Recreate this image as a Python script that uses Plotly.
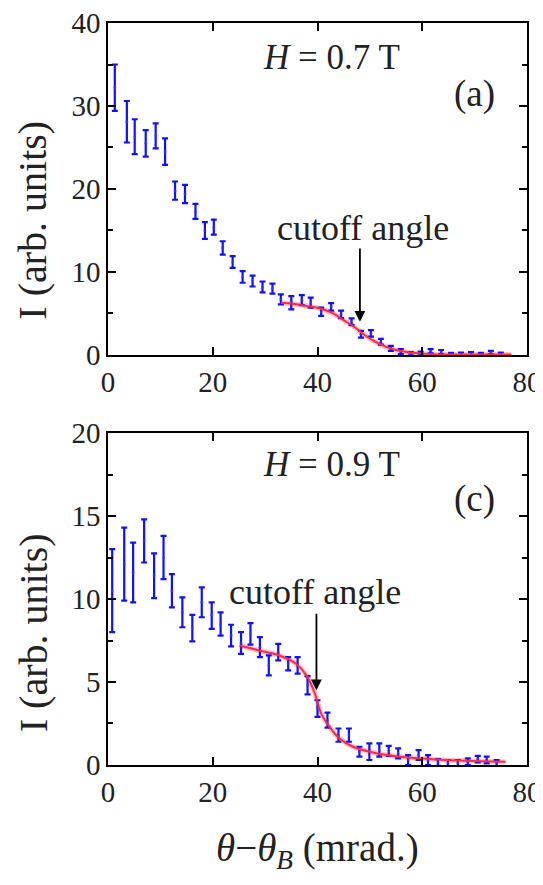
import plotly.graph_objects as go

# ---------------- data: panel (a), H = 0.7 T ----------------
a_x = [1.3, 3.6, 5.1, 7.2, 9.1, 10.9, 12.8, 14.7, 16.7, 18.5, 20.2, 21.9, 23.8, 25.7,
       27.6, 29.5, 31.4, 33.0, 35.0, 37.0, 38.7, 40.7, 42.6, 44.5, 46.5, 48.3, 50.2,
       52.1, 54.0, 55.9, 57.8, 59.7, 61.6, 63.6, 65.5, 67.4, 69.3, 71.2, 73.1, 75.0]
a_y = [32.2, 28.1, 26.3, 25.5, 26.4, 24.5, 19.8, 19.4, 17.3, 15.0, 15.4, 12.9, 11.2, 9.4,
       8.9, 8.2, 8.0, 6.7, 6.3, 6.6, 6.3, 5.2, 5.8, 4.9, 4.0, 2.5, 2.6,
       1.6, 0.8, 0.4, 0.15, 0.2, 0.45, 0.35, 0.05, 0.1, 0.15, 0.05, 0.3, 0.1]
a_err = [2.8, 2.5, 2.1, 1.6, 1.5, 1.6, 1.1, 1.1, 0.9, 1.0, 0.9, 0.8, 0.7, 0.7,
         0.65, 0.65, 0.6, 0.6, 0.8, 0.6, 0.6, 0.5, 0.45, 0.45, 0.4, 0.4, 0.4,
         0.35, 0.3, 0.3, 0.2, 0.2, 0.25, 0.25, 0.2, 0.2, 0.2, 0.2, 0.2, 0.2]
a_fit_x = [33, 35, 37, 39, 41, 43, 45, 47, 49, 51, 53, 55, 57, 59, 62, 66, 70, 77]
a_fit_y = [6.3, 6.2, 6.0, 5.8, 5.5, 5.0, 4.2, 3.4, 2.4, 1.6, 1.0, 0.6, 0.35, 0.2, 0.1,
           0.05, 0.05, 0.05]

# ---------------- data: panel (c), H = 0.9 T ----------------
c_x = [0.8, 3.1, 4.8, 6.9, 8.8, 10.6, 12.2, 14.2, 16.1, 17.9, 19.8, 21.5, 23.5, 25.4,
       27.2, 29.0, 30.7, 32.5, 34.4, 36.2, 38.1, 40.0, 41.9, 44.0, 46.0, 48.0, 49.9,
       51.8, 53.6, 55.4, 57.3, 59.3, 61.1, 63.0, 64.9, 66.8, 68.7, 70.6, 72.3, 74.2]
c_y = [10.5, 12.1, 11.6, 13.5, 11.4, 12.5, 10.5, 9.2, 8.25, 9.8, 9.0, 8.5, 7.8, 7.35,
       7.9, 7.1, 6.0, 6.8, 6.1, 6.0, 4.8, 3.4, 2.7, 1.8, 1.8, 0.8, 0.8,
       0.9, 0.85, 0.7, 0.3, 0.6, 0.3, 0.15, 0.1, 0.1, 0.2, 0.35, 0.3, 0.1]
c_err = [2.5, 2.2, 1.8, 1.3, 1.35, 1.3, 1.0, 0.9, 0.8, 0.9, 0.8, 0.7, 0.65, 0.65,
         0.65, 0.6, 0.6, 0.5, 0.4, 0.5, 0.55, 0.5, 0.45, 0.4, 0.4, 0.3, 0.5,
         0.4, 0.3, 0.3, 0.3, 0.3, 0.3, 0.2, 0.2, 0.2, 0.2, 0.2, 0.2, 0.2]
c_fit_x = [25.1, 28.9, 32.7, 35.9, 37.9, 39.5, 40.7, 42.3, 44.2, 46.8, 50.0, 55.7, 62.0,
           68.3, 75.9]
c_fit_y = [7.2, 6.9, 6.6, 6.1, 5.4, 4.3, 3.1, 2.3, 1.6, 1.1, 0.8, 0.5, 0.35, 0.25, 0.2]

x_tick_vals = [0, 20, 40, 60, 80]
a_y_ticks = [0, 10, 20, 30, 40]
c_y_ticks = [0, 5, 10, 15, 20]

FONT = "Liberation Serif"
BLUE = "#1010ff"
RED = "#ff2a3c"
TXT = "#222222"

fig = go.Figure()

for xs, ys, es, fx, fy, xa, ya in [
    (a_x, a_y, a_err, a_fit_x, a_fit_y, "x", "y"),
    (c_x, c_y, c_err, c_fit_x, c_fit_y, "x2", "y2"),
]:
    fig.add_trace(go.Scatter(
        x=fx, y=fy, mode="lines", xaxis=xa, yaxis=ya,
        line=dict(color="rgba(255,80,110,0.35)", width=5, shape="spline"),
        hoverinfo="skip", showlegend=False))
    fig.add_trace(go.Scatter(
        x=xs, y=ys, mode="markers", xaxis=xa, yaxis=ya,
        marker=dict(color="rgba(60,60,255,0.6)", size=3),
        error_y=dict(type="data", array=es, visible=True, color=BLUE,
                     thickness=2.2, width=3),
        showlegend=False))
    fig.add_trace(go.Scatter(
        x=fx, y=fy, mode="lines", xaxis=xa, yaxis=ya,
        line=dict(color=RED, width=2, shape="spline"),
        showlegend=False))

axis_common = dict(
    showline=True, linecolor="black", linewidth=1.5, mirror="ticks",
    ticks="inside", ticklen=8, tickwidth=1.5, tickcolor="black",
    showgrid=False, zeroline=False, automargin=False, ticklabeloverflow="allow",
    tickfont=dict(family=FONT, size=29, color=TXT),
)

top_dom = [0.5526, 1.0]
bot_dom = [0.0, 0.4474]

# the page body adds an 8 px margin on each side, so the figure is sized to fit inside it
fig.update_layout(
    width=535, height=869,
    margin=dict(l=100, r=16, t=15, b=112, autoexpand=False),
    plot_bgcolor="white", paper_bgcolor="white",
    font=dict(family=FONT, color=TXT),
    xaxis=dict(domain=[0, 1], anchor="y", range=[0, 80], tickvals=x_tick_vals, **axis_common),
    yaxis=dict(domain=top_dom, anchor="x", range=[0, 40], tickvals=a_y_ticks,
               minor=dict(tickvals=[5, 15, 25, 35], ticks="inside", ticklen=5,
                          tickwidth=1.5, tickcolor="black"),
               **axis_common),
    xaxis2=dict(domain=[0, 1], anchor="y2", range=[0, 80], tickvals=x_tick_vals, **axis_common),
    yaxis2=dict(domain=bot_dom, anchor="x2", range=[0, 20], tickvals=c_y_ticks,
                minor=dict(tickvals=[2.5, 7.5, 12.5, 17.5], ticks="inside", ticklen=5,
                           tickwidth=1.5, tickcolor="black"),
                **axis_common),
)

ann = []
# panel (a) texts
ann.append(dict(x=42.6, y=35.9, xref="x", yref="y", text="<i>H</i> = 0.7 T",
                showarrow=False, font=dict(family=FONT, size=35, color=TXT)))
ann.append(dict(x=70, y=31.4, xref="x", yref="y", text="(a)",
                showarrow=False, font=dict(family=FONT, size=37, color=TXT)))
ann.append(dict(x=48.7, y=15.3, xref="x", yref="y", text="cutoff angle",
                showarrow=False, font=dict(family=FONT, size=36, color=TXT)))
ann.append(dict(x=48.1, y=4.0, ax=48.1, ay=13.0, xref="x", yref="y", axref="x", ayref="y",
                text="", showarrow=True, arrowhead=2, arrowsize=1.2, arrowwidth=1.8,
                arrowcolor="black"))
# panel (c) texts
ann.append(dict(x=42.6, y=18.1, xref="x2", yref="y2", text="<i>H</i> = 0.9 T",
                showarrow=False, font=dict(family=FONT, size=35, color=TXT)))
ann.append(dict(x=70, y=16.0, xref="x2", yref="y2", text="(c)",
                showarrow=False, font=dict(family=FONT, size=37, color=TXT)))
ann.append(dict(x=39.5, y=10.4, xref="x2", yref="y2", text="cutoff angle",
                showarrow=False, font=dict(family=FONT, size=36, color=TXT)))
ann.append(dict(x=39.8, y=4.5, ax=39.8, ay=9.2, xref="x2", yref="y2", axref="x2", ayref="y2",
                text="", showarrow=True, arrowhead=2, arrowsize=1.2, arrowwidth=1.8,
                arrowcolor="black"))
# axis titles
ann.append(dict(x=-0.179, y=16.3, xref="paper", yref="y", text="I (arb. units)",
                textangle=-90, showarrow=False, xanchor="center", yanchor="middle",
                font=dict(family=FONT, size=40, color=TXT)))
ann.append(dict(x=-0.179, y=8.0, xref="paper", yref="y2", text="I (arb. units)",
                textangle=-90, showarrow=False, xanchor="center", yanchor="middle",
                font=dict(family=FONT, size=40, color=TXT)))
ann.append(dict(x=0.5, y=-0.115, xref="paper", yref="paper",
                text="<i>θ</i>−<i>θ</i><sub><i>B</i></sub> (mrad.)",
                showarrow=False, xanchor="center", yanchor="middle",
                font=dict(family=FONT, size=39, color=TXT)))

fig.update_layout(annotations=ann)
fig.write_html("out.html")
